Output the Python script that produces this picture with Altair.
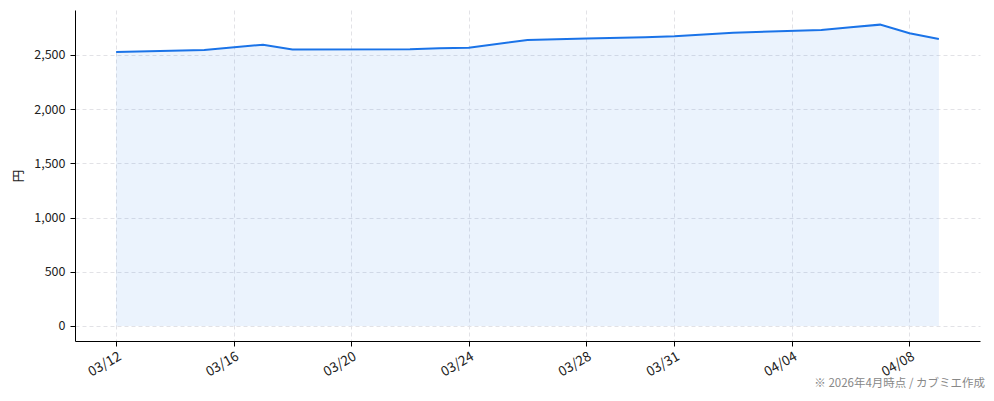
import altair as alt
import pandas as pd

dates = ["2026-03-12", "2026-03-15", "2026-03-17", "2026-03-18", "2026-03-22",
         "2026-03-23", "2026-03-24", "2026-03-26", "2026-03-28", "2026-03-30",
         "2026-03-31", "2026-04-01", "2026-04-02", "2026-04-05", "2026-04-06",
         "2026-04-07", "2026-04-08", "2026-04-09"]
values = [2528, 2545, 2595, 2550, 2553, 2562, 2567, 2638, 2653, 2663,
          2672, 2688, 2706, 2731, 2755, 2780, 2700, 2648]
tick_dates = [(3, 12), (3, 16), (3, 20), (3, 24), (3, 28), (3, 31), (4, 4), (4, 8)]
y_ticks = [0, 500, 1000, 1500, 2000, 2500]
y_label = "円"
footnote = "※ 2026年4月時点 / カブミエ作成"

df = pd.DataFrame({"date": [d + "T00:00:00" for d in dates], "price": values})

FONT = "Noto Sans CJK JP"
LINE = "#1a73e8"

x_scale = alt.Scale(domain=[alt.DateTime(year=2026, month=3, date=10, hours=14, minutes=24),
                            alt.DateTime(year=2026, month=4, date=10, hours=9, minutes=36)])
y_scale = alt.Scale(domain=[-139, 2915], nice=False, zero=False)

x_axis = alt.Axis(values=[alt.DateTime(year=2026, month=m, date=d) for m, d in tick_dates],
                  format="%m/%d", labelAngle=-30, labelAlign="right", labelBaseline="top",
                  title=None, grid=True, gridDash=[4, 3], gridColor="#e2e2e6",
                  tickSize=5, labelPadding=3, labelFontSize=13.5)
y_axis = alt.Axis(values=y_ticks, format=",d", title=y_label, grid=True,
                  gridDash=[4, 3], gridColor="#e2e2e6", tickSize=5, labelPadding=5,
                  titlePadding=8, labelFontSize=12.5)

base = alt.Chart(df)

area = base.mark_area(color=LINE, opacity=0.085, clip=True).encode(
    x=alt.X("date:T", scale=x_scale, axis=x_axis),
    y=alt.Y("price:Q", scale=y_scale, axis=y_axis),
    y2=alt.datum(0),
)
line = base.mark_line(color=LINE, strokeWidth=2).encode(
    x=alt.X("date:T", scale=x_scale),
    y=alt.Y("price:Q", scale=y_scale),
)
note = alt.Chart(pd.DataFrame({"t": [footnote]})).mark_text(
    align="right", baseline="middle", fontSize=11.5, color="#888888", font=FONT
).encode(x=alt.value(910), y=alt.value(374), text="t:N")

chart = alt.layer(area, line, note).properties(
    width=905, height=331,
    autosize=alt.AutoSizeParams(type="none"),
    padding={"left": 67, "top": 2, "right": 6, "bottom": 50},
).configure_view(stroke=None).configure_axis(
    labelFont=FONT, titleFont=FONT, titleFontSize=12.5,
    labelColor="#222222", titleColor="#222222", domainColor="#000000",
    tickColor="#000000", titleFontWeight="normal",
)

chart.save("out.html", embed_options={"renderer": "svg", "actions": False})
